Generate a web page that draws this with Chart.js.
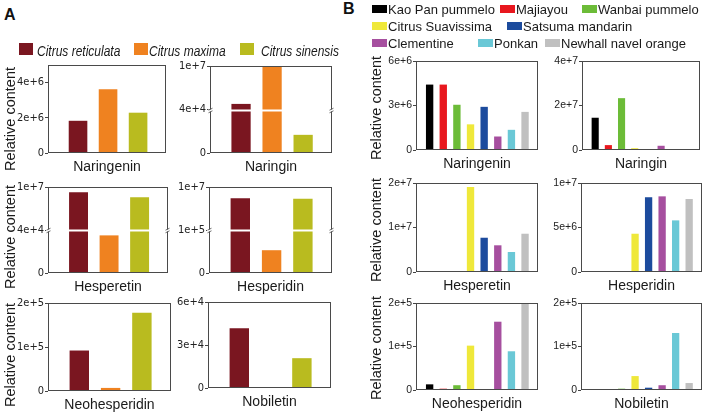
<!DOCTYPE html>
<html><head><meta charset="utf-8">
<script src="https://cdn.jsdelivr.net/npm/chart.js@4.4.1/dist/chart.umd.min.js"></script>
<style>
html,body{margin:0;padding:0;background:#fff;}
#root{position:relative;width:708px;height:412px;overflow:hidden;font-family:"Liberation Sans",Arial,sans-serif;color:#1a1a1a;}
.cv{position:absolute;}
.t{position:absolute;white-space:nowrap;line-height:1;}
.sw{position:absolute;}
</style></head><body><div id="root"></div>
<script>
// ---------------- data ----------------
const speciesA = ['Citrus reticulata', 'Citrus maxima', 'Citrus sinensis'];
const colorsA = ['#7a1620', '#ef8220', '#b9bb1f'];
const cultivarsB = ['Kao Pan pummelo', 'Majiayou', 'Wanbai pummelo', 'Citrus Suavissima',
                    'Satsuma mandarin', 'Clementine', 'Ponkan', 'Newhall navel orange'];
const colorsB = ['#000000', '#e8171e', '#6cbc38', '#efe83a', '#1c4b9d', '#a64f9f', '#6ac8d6', '#c0c0c0'];
const compounds = ['Naringenin', 'Naringin', 'Hesperetin', 'Hesperidin', 'Neohesperidin', 'Nobiletin'];

// Panel A values (C. reticulata, C. maxima, C. sinensis)
const naringeninA    = [1.83e6, 3.62e6, 2.29e6];
const naringinA      = [1.32e6, 1.0e7, 1.67e4];
const hesperetinA    = [8.8e6, 3.5e4, 7.6e6];
const hesperidinA    = [7.4e6, 5.3e4, 7.3e6];
const neohesperidinA = [9.2e4, 7.0e3, 1.78e5];
const nobiletinA     = [4.17e4, 6.0e2, 2.08e4];

// Panel B values (8 cultivars, same order as cultivarsB)
const naringeninB    = [4.41e6, 4.41e6, 3.05e6, 1.73e6, 2.91e6, 0.91e6, 1.36e6, 2.57e6];
const naringinB      = [1.45e7, 2.2e6, 2.33e7, 8.0e5, 0, 1.9e6, 0, 0];
const hesperetinB    = [0, 0, 0, 1.91e7, 7.7e6, 6.0e6, 4.5e6, 8.6e6];
const hesperidinB    = [0, 0, 0, 4.3e6, 8.4e6, 8.5e6, 5.8e6, 8.2e6];
const neohesperidinB = [1.3e4, 3.0e3, 1.1e4, 1.02e5, 0, 1.57e5, 8.9e4, 1.99e5];
const nobiletinB     = [0, 0, 3.0e3, 3.2e4, 5.3e3, 1.1e4, 1.31e5, 1.6e4];

// y-axis ticks / maxima / axis breaks
const ticksA  = [[0, 2e6, 4e6], [0, 4e4, 1e7], [0, 4e4, 1e7], [0, 1e5, 1e7], [0, 1e5, 2e5], [0, 3e4, 6e4]];
const maxA    = [5e6, 1e7, 1e7, 1e7, 2e5, 6e4];
const breaksA = [null, 4e4, 4e4, 1e5, null, null];
const ticksB  = [[0, 3e6, 6e6], [0, 2e7, 4e7], [0, 1e7, 2e7], [0, 5e6, 1e7], [0, 1e5, 2e5], [0, 1e5, 2e5]];
const maxB    = [6e6, 4e7, 2e7, 1e7, 2e5, 2e5];

const yTitle = 'Relative content';

// ---------------- layout (positions only) ----------------
const boxesA = [[48,65,166,153],[210,66,332,153],[48,187,168,273],[209,187,332,273],[48,303,171,391],[208,302,331,388]];
const boxesB = [[416,61,538,150],[582,61,700,150],[416,183,538,272],[581,183,702,272],[416,303,538,390],[581,303,702,390]];

const FONT = '"Liberation Sans", Arial, sans-serif';
const NARROW = '"Liberation Sans Narrow", "Arial Narrow", "DejaVu Sans Condensed", "Liberation Sans", Arial, sans-serif';

// ---------------- broken linear scale ----------------
class BrokenLinearScale extends Chart.LinearScale {
  buildTicks() {
    return [{value: this.min}, {value: this.options.breakAt}, {value: this.max}];
  }
  getPixelForValue(value) {
    if (value === null || value === undefined) return NaN;
    const b = this.options.breakAt, lo = this.min, hi = this.max;
    let dec;
    if (value <= b) dec = 0.5 * (value - lo) / (b - lo);
    else dec = 0.5 + 0.5 * (value - b) / (hi - b);
    return this.getPixelForDecimal(dec);
  }
  getValueForPixel(pixel) {
    const dec = this.getDecimalForPixel(pixel);
    const b = this.options.breakAt, lo = this.min, hi = this.max;
    return dec <= 0.5 ? lo + dec * 2 * (b - lo) : b + (dec - 0.5) * 2 * (hi - b);
  }
}
BrokenLinearScale.id = 'brokenLinear';
BrokenLinearScale.defaults = Chart.LinearScale.defaults;
Chart.register(BrokenLinearScale);

const boxPlugin = {
  id: 'boxFrame',
  afterDatasetsDraw(chart) {
    const {ctx, chartArea: a} = chart;
    ctx.save();
    ctx.strokeStyle = '#4a4a4a';
    ctx.lineWidth = 1;
    ctx.strokeRect(a.left + 0.5, a.top + 0.5, a.right - a.left - 1, a.bottom - a.top - 1);
    const ys = chart.scales.y;
    const brk = ys.options.breakAt;
    if (brk !== null && brk !== undefined) {
      const y = Math.round(ys.getPixelForValue(brk)) + 0.5;
      ctx.strokeStyle = '#ffffff';
      ctx.lineWidth = 2;
      ctx.beginPath(); ctx.moveTo(a.left - 2, y); ctx.lineTo(a.right + 3, y); ctx.stroke();
      ctx.strokeStyle = '#4a4a4a';
      ctx.lineWidth = 0.8;
      [a.left + 0.5, a.right - 0.5].forEach(x0 => {
        [-1.3, 1.3].forEach(d => {
          ctx.beginPath();
          ctx.moveTo(x0 - 2, y + d + 1);
          ctx.lineTo(x0 + 2, y + d - 1);
          ctx.stroke();
        });
      });
    }
    ctx.restore();
  }
};

function fmt(v) {
  if (v === 0) return '0';
  return Number(v).toExponential();
}

const root = document.getElementById('root');

function makePanel(box, values, colors, yMax, yTicks, brk, xTitle, o) {
  const yw = 40, pt = 8, pr = 6, xh = 24;
  const [L, T, R, B] = box;
  const w = R - L + yw + pr, h = B - T + pt + xh;
  const c = document.createElement('canvas');
  c.className = 'cv';
  c.width = w; c.height = h;
  c.style.left = (L - yw) + 'px'; c.style.top = (T - pt) + 'px';
  c.style.width = w + 'px'; c.style.height = h + 'px';
  root.appendChild(c);
  new Chart(c, {
    type: 'bar',
    data: {
      datasets: [{
        data: values.map((v, i) => ({x: i, y: v})),
        backgroundColor: colors,
        borderWidth: 0,
        barPercentage: o.bp,
        categoryPercentage: 1
      }]
    },
    options: {
      responsive: false,
      animation: false,
      devicePixelRatio: 1,
      layout: {padding: {top: pt, right: pr, left: 0, bottom: 0}},
      plugins: {legend: {display: false}, tooltip: {enabled: false}},
      scales: {
        x: {
          type: 'linear', offset: false, min: o.xmin, max: o.xmax,
          ticks: {display: false},
          grid: {display: false, drawTicks: false},
          border: {display: false},
          title: {display: true, text: xTitle, color: '#1a1a1a',
                  font: {size: 14, family: FONT},
                  padding: {top: 0, bottom: 1}},
          afterFit: s => { s.height = xh; }
        },
        y: {
          type: brk ? 'brokenLinear' : 'linear',
          breakAt: brk, min: 0, max: yMax, offset: false,
          afterBuildTicks: s => { s.ticks = yTicks.map(v => ({value: v})); },
          ticks: {callback: v => fmt(v), color: '#222', padding: 1, autoSkip: false,
                  font: {size: o.tf, family: o.tfam}},
          grid: {drawOnChartArea: false, tickLength: 3, color: '#444', lineWidth: 1},
          border: {display: false},
          afterFit: s => { s.width = yw; }
        }
      }
    },
    plugins: [boxPlugin]
  });
}

const seriesA = [naringeninA, naringinA, hesperetinA, hesperidinA, neohesperidinA, nobiletinA];
const seriesB = [naringeninB, naringinB, hesperetinB, hesperidinB, neohesperidinB, nobiletinB];
for (let i = 0; i < 6; i++) {
  makePanel(boxesA[i], seriesA[i], colorsA, maxA[i], ticksA[i], breaksA[i], compounds[i],
            {xmin: -1, xmax: 2.93, bp: 0.62, tf: 11, tfam: NARROW});
  makePanel(boxesB[i], seriesB[i], colorsB, maxB[i], ticksB[i], null, compounds[i],
            {xmin: -1, xmax: 7.95, bp: 0.54, tf: 10.5, tfam: FONT});
}

// ---------------- text: panel letters, y titles, legends ----------------
function addText(txt, x, y, css) {
  const d = document.createElement('div');
  d.className = 't'; d.textContent = txt;
  d.style.left = x + 'px'; d.style.top = y + 'px';
  Object.assign(d.style, css || {});
  root.appendChild(d);
  return d;
}
addText('A', 4, 6, {font: 'bold 16px ' + FONT, color: '#111'});
addText('B', 343, 0, {font: 'bold 16px ' + FONT, color: '#111'});

const yTitlePos = [[9.5, 119], [9.5, 237], [9.5, 355], [376, 108], [376, 230], [376, 348]];
yTitlePos.forEach(([cx, cy]) => {
  addText(yTitle, cx, cy, {font: '14.5px ' + FONT, color: '#1a1a1a',
    transform: 'translate(-50%,-50%) rotate(-90deg)'});
});

// legend A
const legendAPos = [[19, 37], [134, 149], [240, 261]];
speciesA.forEach((name, i) => {
  const s = document.createElement('div');
  s.className = 'sw';
  Object.assign(s.style, {left: legendAPos[i][0] + 'px', top: '43px', width: '14px', height: '12px', background: colorsA[i]});
  root.appendChild(s);
  addText(name, legendAPos[i][1], 42, {font: 'italic 15px ' + FONT, color: '#1a1a1a',
    transform: 'scaleX(0.8)', transformOrigin: 'left center'});
});

// legend B
const legendBPos = [[372, 0], [500, 0], [582, 0], [372, 1], [507, 1], [372, 2], [478, 2], [545, 2]];
cultivarsB.forEach((name, i) => {
  const [x, row] = legendBPos[i];
  const cy = 8.7 + row * 16.9;
  const s = document.createElement('div');
  s.className = 'sw';
  Object.assign(s.style, {left: x + 'px', top: (cy - 4) + 'px', width: '15px', height: '8px', background: colorsB[i]});
  root.appendChild(s);
  addText(name, x + 16, cy - 7, {font: '13px ' + FONT, color: '#1a1a1a'});
});
</script></body></html>
